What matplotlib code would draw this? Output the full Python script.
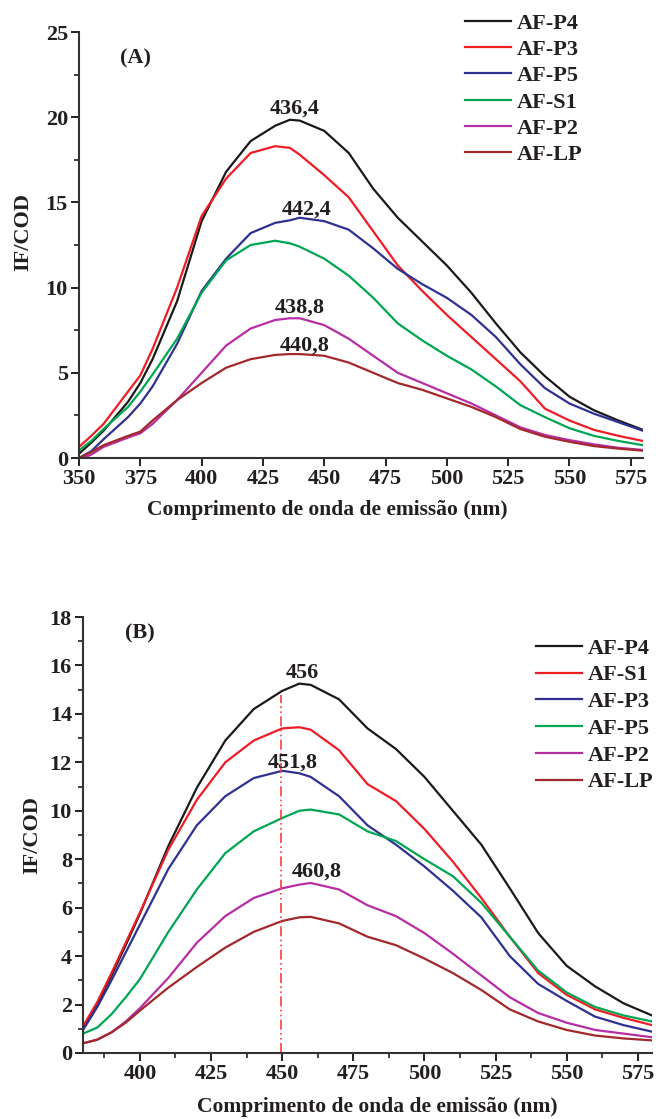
import matplotlib
matplotlib.use("Agg")
import matplotlib.pyplot as plt
from matplotlib.ticker import MultipleLocator

# Painel (A) - espectros de emissao
wl_a = [350, 355, 360, 370, 375, 380, 390, 400, 410, 420, 430, 436, 440, 450,
        460, 470, 480, 490, 500, 510, 520, 530, 540, 550, 560, 570, 580]
p4_a = [0.25, 0.9, 1.6, 3.3, 4.4, 5.8, 9.2, 13.9, 16.8, 18.6, 19.5, 19.85, 19.8, 19.2,
        17.9, 15.8, 14.1, 12.7, 11.3, 9.7, 7.9, 6.2, 4.8, 3.6, 2.8, 2.2, 1.65]
p3_a = [0.65, 1.3, 2.0, 3.9, 4.85, 6.4, 10.0, 14.2, 16.4, 17.9, 18.3, 18.2, 17.8, 16.6,
        15.3, 13.3, 11.3, 9.8, 8.4, 7.1, 5.8, 4.5, 2.9, 2.2, 1.65, 1.3, 1.0]
p5_a = [0.0, 0.4, 1.1, 2.4, 3.2, 4.2, 6.7, 9.8, 11.7, 13.2, 13.8, 13.95, 14.1, 13.9,
        13.4, 12.3, 11.1, 10.2, 9.4, 8.4, 7.1, 5.5, 4.1, 3.2, 2.6, 2.1, 1.6]
s1_a = [0.45, 1.0, 1.7, 3.0, 3.9, 4.9, 7.0, 9.7, 11.6, 12.5, 12.75, 12.6, 12.4, 11.7,
        10.7, 9.4, 7.9, 6.9, 6.0, 5.2, 4.2, 3.1, 2.4, 1.75, 1.3, 1.0, 0.75]
p2_a = [-0.1, 0.2, 0.65, 1.2, 1.45, 2.0, 3.4, 5.0, 6.6, 7.6, 8.1, 8.2, 8.2, 7.8,
        7.0, 6.0, 5.0, 4.4, 3.8, 3.2, 2.5, 1.8, 1.35, 1.05, 0.8, 0.6, 0.47]
lp_a = [0.0, 0.35, 0.75, 1.3, 1.55, 2.2, 3.4, 4.4, 5.3, 5.8, 6.05, 6.1, 6.1, 6.0,
        5.6, 5.0, 4.4, 4.0, 3.5, 3.0, 2.4, 1.7, 1.25, 0.95, 0.7, 0.55, 0.43]

# Painel (B)
wl_b = [380, 385, 390, 395, 400, 410, 420, 430, 440, 450, 456, 460, 470, 480,
        490, 500, 510, 520, 530, 540, 550, 560, 570, 580]
p4_b = [1.05, 2.0, 3.2, 4.45, 5.75, 8.55, 10.95, 12.9, 14.2, 14.95, 15.25, 15.2, 14.6, 13.4,
        12.55, 11.4, 10.0, 8.6, 6.8, 4.95, 3.6, 2.75, 2.05, 1.55]
s1_b = [1.1, 2.1, 3.3, 4.55, 5.8, 8.4, 10.45, 12.0, 12.9, 13.4, 13.45, 13.35, 12.5, 11.1,
        10.4, 9.25, 7.9, 6.4, 4.8, 3.3, 2.4, 1.8, 1.45, 1.15]
p3_b = [0.95, 1.9, 3.0, 4.15, 5.3, 7.6, 9.4, 10.6, 11.35, 11.65, 11.55, 11.4, 10.6, 9.4,
        8.6, 7.7, 6.7, 5.6, 4.0, 2.85, 2.15, 1.5, 1.15, 0.88]
p5_b = [0.8, 1.05, 1.6, 2.3, 3.05, 5.0, 6.75, 8.25, 9.15, 9.7, 10.0, 10.05, 9.85, 9.15,
        8.75, 8.0, 7.3, 6.2, 4.8, 3.4, 2.5, 1.9, 1.55, 1.3]
p2_b = [0.4, 0.55, 0.85, 1.3, 1.85, 3.1, 4.55, 5.65, 6.4, 6.8, 6.95, 7.02, 6.75, 6.1,
        5.65, 4.95, 4.1, 3.2, 2.3, 1.65, 1.25, 0.95, 0.8, 0.65]
lp_b = [0.4, 0.55, 0.85, 1.25, 1.75, 2.7, 3.55, 4.35, 5.0, 5.45, 5.6, 5.62, 5.35, 4.8,
        4.45, 3.9, 3.3, 2.6, 1.8, 1.3, 0.95, 0.72, 0.6, 0.52]

labels_a = ["AF-P4", "AF-P3", "AF-P5", "AF-S1", "AF-P2", "AF-LP"]
labels_b = ["AF-P4", "AF-S1", "AF-P3", "AF-P5", "AF-P2", "AF-LP"]

# anotacoes dos maximos (texto, x, y)
peaks_a = [("436,4", 437.8, 20.5), ("442,4", 443.0, 14.6),
           ("438,8", 440.2, 8.8), ("440,8", 442.0, 6.6)]
peaks_b = [("456", 457.0, 15.7), ("451,8", 453.6, 12.0), ("460,8", 462.0, 7.5)]
marker_b_x = 449.6
marker_b_top = 14.8

colors = ["#1a1a1a", "#ee1c24", "#2e3192", "#00a651", "#b72ea4", "#a3282b"]
text_color = "#231f20"

plt.rcParams["font.family"] = ["Liberation Serif", "DejaVu Serif"]
plt.rcParams["font.weight"] = "bold"
plt.rcParams["font.size"] = 16
plt.rcParams["text.color"] = text_color
plt.rcParams["axes.labelcolor"] = text_color
plt.rcParams["xtick.color"] = text_color
plt.rcParams["ytick.color"] = text_color


def style_axes(ax):
    ax.spines["top"].set_visible(False)
    ax.spines["right"].set_visible(False)
    for side in ("left", "bottom"):
        ax.spines[side].set_linewidth(1.5)
        ax.spines[side].set_color("#333333")
    ax.tick_params(which="major", direction="out", length=6, width=1.4, labelsize=16, pad=2)
    ax.tick_params(which="minor", direction="out", length=3.5, width=1.2)
    for lab in ax.get_xticklabels() + ax.get_yticklabels():
        lab.set_fontweight("bold")


def main():
    fig = plt.figure(figsize=(6.59, 11.19), dpi=100)

    # ---- (A)
    ax1 = fig.add_axes([0.1199, 0.5907, 0.8558, 0.3807])
    series_a = [p4_a, p3_a, p5_a, s1_a, p2_a, lp_a]
    for vals, lab, c in zip(series_a, labels_a, colors):
        ax1.plot(wl_a, vals, color=c, lw=1.6, label=lab)
    ax1.set_xlim(350, 580)
    ax1.set_ylim(0, 25)
    ax1.xaxis.set_major_locator(MultipleLocator(25))
    ax1.yaxis.set_major_locator(MultipleLocator(5))
    ax1.yaxis.set_minor_locator(MultipleLocator(2.5))
    style_axes(ax1)
    ax1.set_xlabel("Comprimento de onda de emissão (nm)", fontsize=15.5, fontweight="bold")
    ax1.set_ylabel("IF/COD", fontsize=16, fontweight="bold")
    ax1.xaxis.set_label_coords(0.44, -0.099)
    ax1.yaxis.set_label_coords(-0.0815, 0.53)
    ax1.text(373, 23.45, "(A)", ha="center", va="center", fontsize=16, fontweight="bold")
    for txt, x, y in peaks_a:
        ax1.text(x, y, txt, ha="center", va="center", fontsize=16, fontweight="bold")
    ax1.legend(loc="upper left", bbox_to_anchor=(0.705, 0.9884), bbox_transform=fig.transFigure,
               frameon=False, fontsize=16, handlelength=2.1, handletextpad=0.25,
               labelspacing=0.26, borderpad=0, borderaxespad=0)

    # ---- (B)
    ax2 = fig.add_axes([0.126, 0.0590, 0.8634, 0.3896])
    series_b = [p4_b, s1_b, p3_b, p5_b, p2_b, lp_b]
    for vals, lab, c in zip(series_b, labels_b, colors):
        ax2.plot(wl_b, vals, color=c, lw=1.6, label=lab)
    ax2.plot([marker_b_x, marker_b_x], [0, marker_b_top], color="#ff3b3b", lw=1.2,
             linestyle=(0, (6, 2, 1, 2, 1, 2)))
    ax2.set_xlim(380, 580)
    ax2.set_ylim(0, 18)
    ax2.xaxis.set_major_locator(MultipleLocator(25))
    ax2.xaxis.set_minor_locator(MultipleLocator(12.5))
    ax2.yaxis.set_major_locator(MultipleLocator(2))
    ax2.yaxis.set_minor_locator(MultipleLocator(1))
    style_axes(ax2)
    ax2.set_xlabel("Comprimento de onda de emissão (nm)", fontsize=15.5, fontweight="bold")
    ax2.set_ylabel("IF/COD", fontsize=16, fontweight="bold")
    ax2.xaxis.set_label_coords(0.517, -0.1)
    ax2.yaxis.set_label_coords(-0.072, 0.5)
    ax2.text(400, 17.3, "(B)", ha="center", va="center", fontsize=16, fontweight="bold")
    for txt, x, y in peaks_b:
        ax2.text(x, y, txt, ha="center", va="center", fontsize=16, fontweight="bold")
    ax2.legend(loc="upper left", bbox_to_anchor=(0.813, 0.4298), bbox_transform=fig.transFigure,
               frameon=False, fontsize=16, handlelength=2.1, handletextpad=0.25,
               labelspacing=0.28, borderpad=0, borderaxespad=0)

    fig.savefig("out.png", dpi=100)
    plt.close(fig)


if __name__ == "__main__":
    main()
